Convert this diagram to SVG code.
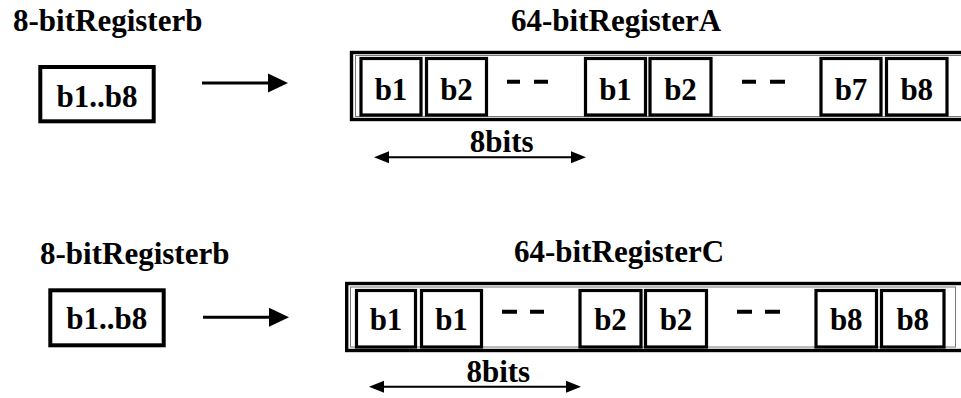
<svg xmlns="http://www.w3.org/2000/svg" width="961" height="398" viewBox="0 0 961 398">
  <style>
    text { font-family: "Liberation Serif", "Times New Roman", serif; font-weight: bold; font-size: 31px; fill: #000; }
    .mid { text-anchor: middle; }
    .cell { fill: #fff; stroke: #000; stroke-width: 3.2; }
    .src { fill: #fff; stroke: #000; stroke-width: 4; }
    .reg { fill: #fff; stroke: #000; stroke-width: 3.4; }
    .inner { fill: none; stroke: #777; stroke-width: 1; }
    .dash { stroke: #000; stroke-width: 4; }
    .arrow { stroke: #000; stroke-width: 3; fill: none; }
    .span { stroke: #000; stroke-width: 2; fill: none; }
  </style>
  <defs>
    <marker id="head" markerUnits="userSpaceOnUse" markerWidth="22" markerHeight="22" viewBox="0 -11 22 22" refX="1" refY="0" orient="auto">
      <path d="M0,-9.5 L20,0 L0,9.5 z" fill="#000"/>
    </marker>
    <marker id="tip" markerUnits="userSpaceOnUse" markerWidth="17" markerHeight="14" viewBox="0 -7 17 14" refX="1" refY="0" orient="auto-start-reverse">
      <path d="M0,-6 L15,0 L0,6 z" fill="#000"/>
    </marker>
  </defs>

  <!-- upper row: 8-bit source b copied into 64-bit register A -->
  <g id="label-b-top"><text x="13" y="31">8-bitRegisterb</text></g>
  <g id="label-a"><text x="511" y="31">64-bitRegisterA</text></g>

  <g id="src-b-top">
    <rect class="src" x="40.3" y="67" width="113.4" height="54.3"/>
    <text class="mid" x="97" y="107">b1..b8</text>
  </g>

  <g id="reg-a">
    <rect class="reg" x="351.5" y="52.5" width="620" height="67"/>
    <rect class="inner" x="355.5" y="55.5" width="620" height="61"/>
    <g id="a-cell1"><rect class="cell" x="361" y="58.5" width="60" height="56.5"/><text class="mid" x="391" y="100">b1</text></g>
    <g id="a-cell2"><rect class="cell" x="426.5" y="58.5" width="60" height="56.5"/><text class="mid" x="456.5" y="100">b2</text></g>
    <g id="a-cell3"><rect class="cell" x="585.5" y="58.5" width="60" height="56.5"/><text class="mid" x="615.5" y="100">b1</text></g>
    <g id="a-cell4"><rect class="cell" x="650" y="58.5" width="61" height="56.5"/><text class="mid" x="680.5" y="100">b2</text></g>
    <g id="a-cell5"><rect class="cell" x="821" y="58.5" width="60" height="56.5"/><text class="mid" x="851" y="100">b7</text></g>
    <g id="a-cell6"><rect class="cell" x="886.5" y="58.5" width="60.5" height="56.5"/><text class="mid" x="916.75" y="100">b8</text></g>
    <path class="dash" d="M507,81.7 H520 M534,81.7 H548 M742,81.7 H756 M770,81.7 H785"/>
  </g>

  <!-- lower row: 8-bit source b copied into 64-bit register C -->
  <g id="label-b-bottom"><text x="40" y="264">8-bitRegisterb</text></g>
  <g id="label-c"><text x="514" y="262">64-bitRegisterC</text></g>

  <g id="src-b-bottom">
    <rect class="src" x="50.3" y="290.3" width="113.4" height="55"/>
    <text class="mid" x="106.7" y="329">b1..b8</text>
  </g>

  <g id="reg-c">
    <rect class="reg" x="346.7" y="283.5" width="630" height="67"/>
    <rect class="inner" x="350.5" y="287" width="605" height="60"/>
    <g id="c-cell1"><rect class="cell" x="356.5" y="290.5" width="59" height="56.5"/><text class="mid" x="386" y="330">b1</text></g>
    <g id="c-cell2"><rect class="cell" x="421.5" y="290.5" width="60" height="56.5"/><text class="mid" x="451.5" y="330">b1</text></g>
    <g id="c-cell3"><rect class="cell" x="580" y="290.5" width="61" height="56.5"/><text class="mid" x="610.5" y="330">b2</text></g>
    <g id="c-cell4"><rect class="cell" x="645.5" y="290.5" width="61" height="56.5"/><text class="mid" x="676" y="330">b2</text></g>
    <g id="c-cell5"><rect class="cell" x="816" y="290.5" width="60.5" height="56.5"/><text class="mid" x="846.25" y="330">b8</text></g>
    <g id="c-cell6"><rect class="cell" x="881.5" y="290.5" width="62.5" height="56.5"/><text class="mid" x="912.75" y="330">b8</text></g>
    <path class="dash" d="M502,311.7 H517 M530,311.7 H544 M737,311.7 H752 M765,311.7 H780"/>
  </g>

  <g id="span-labels">
    <text class="mid" x="501.7" y="152.3">8bits</text>
    <text class="mid" x="498.3" y="381.7">8bits</text>
  </g>

  <g id="connectors">
    <line class="arrow" x1="202" y1="83" x2="269" y2="83" marker-end="url(#head)"/>
    <line class="arrow" x1="203" y1="317.3" x2="270" y2="317.3" marker-end="url(#head)"/>
    <line class="span" x1="388" y1="157.3" x2="572" y2="157.3" marker-start="url(#tip)" marker-end="url(#tip)"/>
    <line class="span" x1="383" y1="386.7" x2="567" y2="386.7" marker-start="url(#tip)" marker-end="url(#tip)"/>
  </g>
</svg>
